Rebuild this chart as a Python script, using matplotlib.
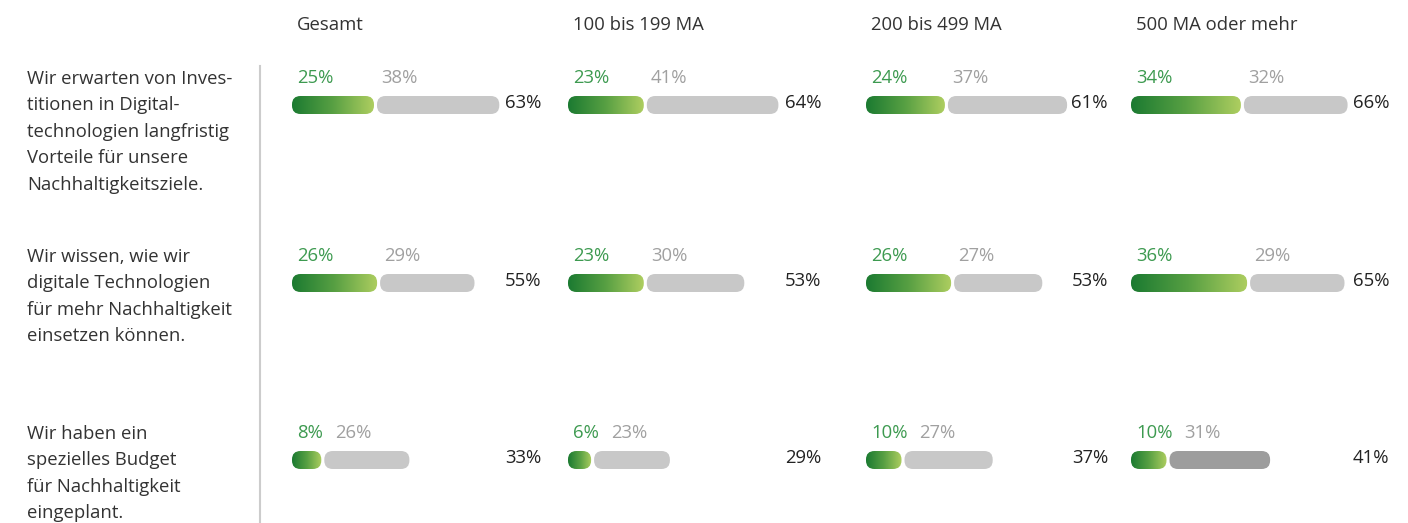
import numpy as np
import matplotlib.pyplot as plt
from matplotlib.patches import FancyBboxPatch
from matplotlib.colors import LinearSegmentedColormap

plt.rcParams['font.family'] = ['Open Sans', 'DejaVu Sans']

groups = ['Gesamt', '100 bis 199 MA', '200 bis 499 MA', '500 MA oder mehr']
statements = [
    'Wir erwarten von Inves-\ntitionen in Digital-\ntechnologien langfristig\nVorteile für unsere\nNachhaltigkeitsziele.',
    'Wir wissen, wie wir\ndigitale Technologien\nfür mehr Nachhaltigkeit\neinsetzen können.',
    'Wir haben ein\nspezielles Budget\nfür Nachhaltigkeit\neingeplant.',
]
# green part (trifft voll zu) and grey part (trifft eher zu), in %
full = [[25, 23, 24, 34],
        [26, 23, 26, 36],
        [8, 6, 10, 10]]
rather = [[38, 41, 37, 32],
          [29, 30, 27, 29],
          [26, 23, 27, 31]]
total = [[63, 64, 61, 66],
         [55, 53, 53, 65],
         [33, 29, 37, 41]]

# layout (pixel units, figure is 1408x523)
col_x = [292, 568, 866, 1131]
total_x = [541, 821, 1108, 1389]
row_y = [105, 283, 460]
bar_h = 18
px_per_pct = 3.1
cap = 4.5
gap = 3
fs = 13.3

green_cmap = LinearSegmentedColormap.from_list('g', ['#1b7a31', '#58a043', '#aece60'])
grad = np.linspace(0, 1, 256).reshape(1, -1)

fig = plt.figure(figsize=(14.08, 5.23), dpi=100)
ax = fig.add_axes([0, 0, 1, 1])
ax.set_xlim(0, 1408)
ax.set_ylim(523, 0)
ax.axis('off')
renderer = fig.canvas.get_renderer()


def rounded_bar(x0, length, yc, face):
    p = FancyBboxPatch((x0, yc - bar_h / 2), length, bar_h,
                       boxstyle='round,pad=0,rounding_size=%g' % (bar_h / 2 - 0.5),
                       facecolor=face, edgecolor='none')
    ax.add_patch(p)
    return p


# column headers
for j, g in enumerate(groups):
    ax.text(col_x[j] + 5, 25, g, fontsize=fs, color='#333333', ha='left', va='center')

# separator
ax.plot([260, 260], [66, 523], color='#cccccc', lw=1.5)

for i, st in enumerate(statements):
    yc = row_y[i]
    ax.text(27, yc - 35, st, fontsize=fs, color='#333333', ha='left', va='top',
            linespacing=1.6)
    for j in range(len(groups)):
        x0 = col_x[j]
        lg = cap + px_per_pct * full[i][j]
        lr = cap + px_per_pct * rather[i][j]
        # green gradient bar
        p = rounded_bar(x0, lg, yc, 'none')
        im = ax.imshow(grad, cmap=green_cmap, aspect='auto',
                       extent=(x0, x0 + lg, yc + bar_h / 2, yc - bar_h / 2))
        im.set_clip_path(p)
        # grey bar
        gx = x0 + lg + gap
        grey = '#9d9d9d' if (i, j) == (2, 3) else '#c8c8c8'
        rounded_bar(gx, lr, yc, grey)
        # labels
        tg = ax.text(x0 + 5, yc - 27, '%d%%' % full[i][j], fontsize=fs, color='#3d9a50',
                     ha='left', va='center')
        green_end = ax.transData.inverted().transform(
            tg.get_window_extent(renderer).p1)[0]
        ax.text(max(gx + 4, green_end + 12), yc - 27, '%d%%' % rather[i][j], fontsize=fs,
                color='#a0a0a0', ha='left', va='center')
        ax.text(total_x[j], yc - 2, '%d%%' % total[i][j], fontsize=fs, color='#222222',
                ha='right', va='center')

ax.set_xlim(0, 1408)
ax.set_ylim(523, 0)
fig.savefig('out.png', dpi=100)
